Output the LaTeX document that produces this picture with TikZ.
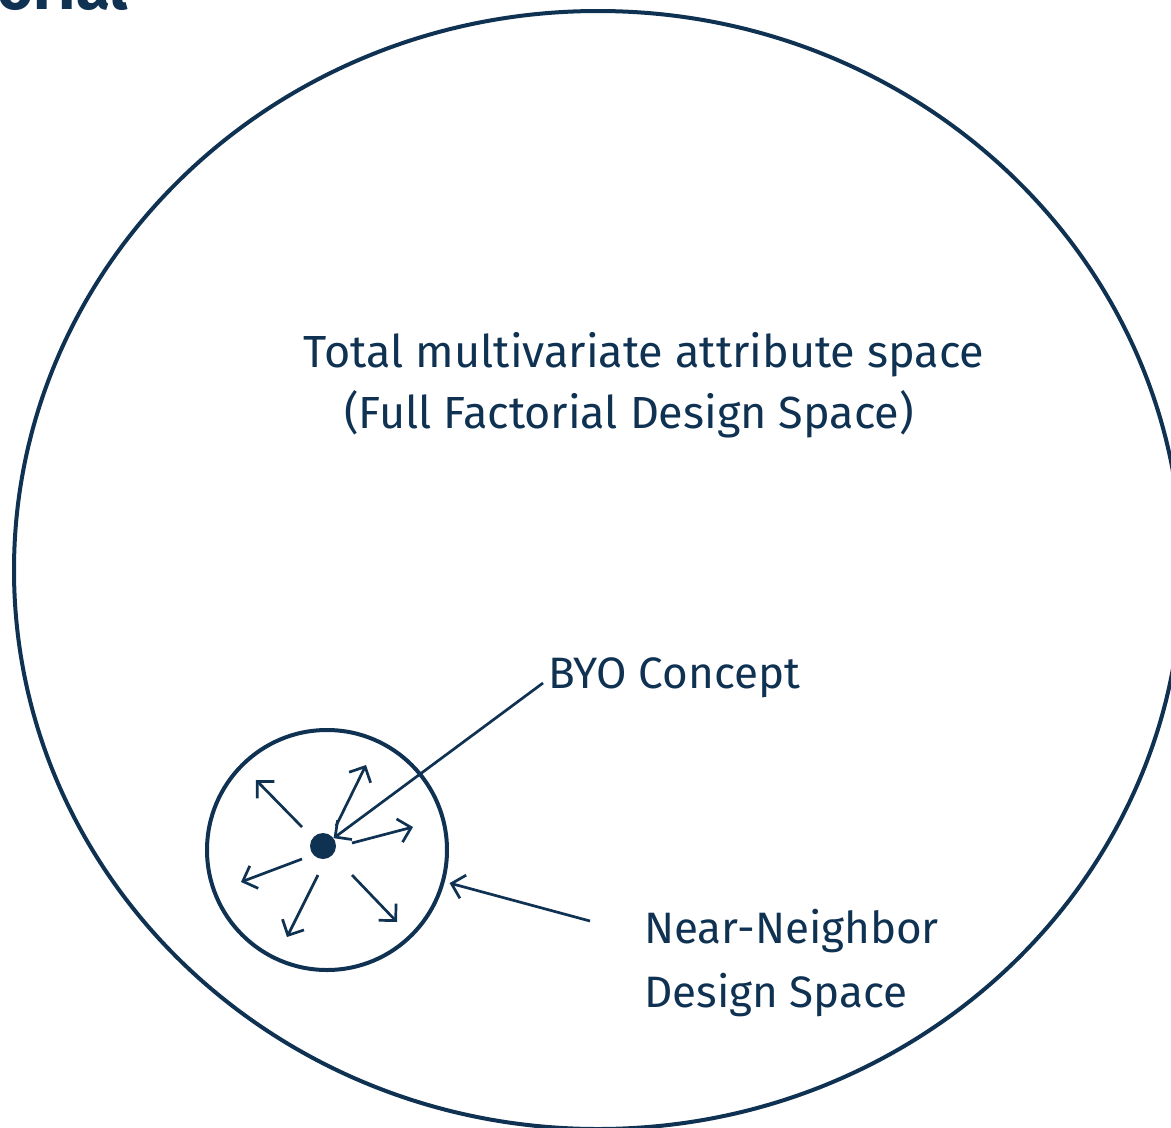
\documentclass[tikz,border=0pt]{standalone}
\usepackage{fontspec}
\setmainfont{Fira Sans}
\usetikzlibrary{arrows.meta,calc}
\definecolor{navy}{HTML}{0F3253}
\begin{document}
\begin{tikzpicture}[x=1pt,y=-1pt,
  every node/.style={text=navy, inner sep=0pt},
  bodytext/.style={font=\fontsize{44}{64}\selectfont},
  heading/.style={font=\fontsize{45}{64}\selectfont},
  spoke/.style={draw=navy, line width=2.7pt, -{Straight Barb[length=12pt,width=24pt]}},
  pointer/.style={draw=navy, line width=2.7pt, -{Straight Barb[length=12pt,width=24pt]}},
  region/.style={draw=navy, line width=4pt},
]
\useasboundingbox (0,0) rectangle (1171,1128);

% title word running off the top edge
\node[anchor=base east, font=\fontsize{62}{64}\bfseries] (title) at (128,9) {Factorial};

% full factorial design space
\draw[region] (598,570) ellipse [x radius=584, y radius=559];
\node[heading, anchor=base] (total) at (644,367) {Total multivariate attribute space};
\node[heading, anchor=base] (full) at (629,428) {(Full Factorial Design Space)};

% near-neighbour region and the chosen concept
\node[region, circle, minimum size=240pt] (nn) at (327,850) {};
\node[circle, fill=navy, minimum size=26pt] (byo) at (323,846) {};

% spokes pointing away from the concept
\foreach \sx/\sy/\ex/\ey in {-21/-19/-67/-66, 13/-20/43/-81, 29/-3/90/-19,
                             -21/13/-82/36, -5/29/-36/91, 29/29/74/76}
  \draw[spoke] ($(byo.center)+(\sx,\sy)$) -- ($(byo.center)+(\ex,\ey)$);

% labels with their pointers
\node[bodytext, anchor=base west] (byolabel) at (548,688) {BYO Concept};
\coordinate (byostart) at ($(byolabel.base west)+(-5,-5)$);
\draw[pointer] (byostart) -- (byo);

\node[bodytext, anchor=base west, align=left] (nnlabel) at (644,1007) {Near-Neighbor\\Design Space};
\coordinate (nnstart) at (590,921);
\draw[pointer, shorten >=5pt] (nnstart) -- (nn);
\end{tikzpicture}
\end{document}
